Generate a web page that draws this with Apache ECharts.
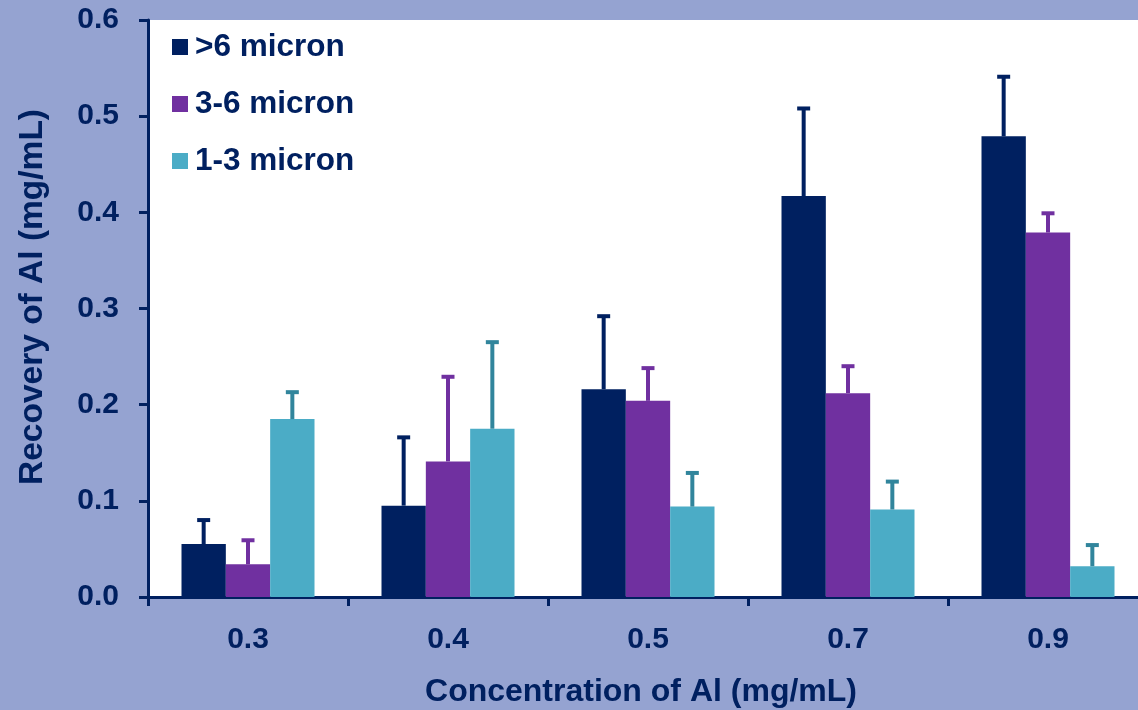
<!DOCTYPE html>
<html>
<head>
<meta charset="utf-8">
<script src="https://cdn.jsdelivr.net/npm/echarts@6/dist/echarts.min.js"></script>
<style>
  html, body { margin: 0; padding: 0; background: #95A3D1; }
  #chart { width: 1138px; height: 710px; }
</style>
</head>
<body>
<div id="chart"></div>
<script>
// Aluminium recovery by particle size fraction
const categories = ['0.3', '0.4', '0.5', '0.7', '0.9'];
const seriesNames = ['>6 micron', '3-6 micron', '1-3 micron'];

const meanOver6 = [0.055, 0.095, 0.216, 0.417, 0.479];
const meanMid = [0.034, 0.141, 0.204, 0.212, 0.379];
const meanUnder3 = [0.185, 0.175, 0.094, 0.091, 0.032];

// upper end of each error bar (mean + SD)
const upperOver6 = [0.080, 0.166, 0.292, 0.508, 0.541];
const upperMid = [0.059, 0.229, 0.238, 0.240, 0.399];
const upperUnder3 = [0.213, 0.265, 0.129, 0.120, 0.054];

const yTicks = [0, 0.1, 0.2, 0.3, 0.4, 0.5, 0.6];

const navy = '#002060';
const barColors = ['#002060', '#7030A0', '#4BACC6'];
const errColors = ['#002060', '#7030A0', '#31859C'];
const font = '"Liberation Sans", Arial, sans-serif';

const means = [meanOver6, meanMid, meanUnder3];
const uppers = [upperOver6, upperMid, upperUnder3];
const CAT_GAP = 0.335;

const chart = echarts.init(document.getElementById('chart'));

const barSeries = seriesNames.map((name, s) => ({
  name: name,
  type: 'bar',
  data: means[s],
  barGap: '0%',
  barCategoryGap: (CAT_GAP * 100) + '%',
  itemStyle: { color: barColors[s] },
  z: 2
}));

// error bars: a stem from the bar top to mean + SD, with a short cap
const errSeries = seriesNames.map((name, s) => ({
  type: 'custom',
  name: name + ' err',
  data: categories.map((c, i) => [i, means[s][i], uppers[s][i]]),
  z: 3,
  silent: true,
  renderItem: function (params, api) {
    const idx = api.value(0);
    const bandW = api.size([1, 0])[0];
    const barW = bandW * (1 - CAT_GAP) / 3;
    const lo = api.coord([idx, api.value(1)]);
    const hi = api.coord([idx, api.value(2)]);
    const x = lo[0] + (s - 1) * barW;
    const capHalf = 6.5;
    return {
      type: 'group',
      children: [
        { type: 'line', shape: { x1: x, y1: lo[1], x2: x, y2: hi[1] },
          style: { stroke: errColors[s], lineWidth: 4 } },
        { type: 'line', shape: { x1: x - capHalf, y1: hi[1], x2: x + capHalf, y2: hi[1] },
          style: { stroke: errColors[s], lineWidth: 4 } }
      ]
    };
  }
}));

chart.setOption({
  backgroundColor: '#95A3D1',
  animation: false,
  textStyle: { fontFamily: font },
  grid: {
    left: 148, top: 20, width: 1000, height: 577,
    outerBoundsMode: 'none',
    containLabel: false,
    show: true, backgroundColor: '#ffffff', borderWidth: 0
  },
  legend: {
    orient: 'vertical',
    left: 167, top: 26,
    itemWidth: 16, itemHeight: 16, itemGap: 25,
    icon: 'rect',
    data: seriesNames,
    textStyle: { color: navy, fontSize: 31.5, fontWeight: 'bold', fontFamily: font, lineHeight: 30, padding: [0, 0, 0, 2] }
  },
  xAxis: {
    type: 'category',
    data: categories,
    name: 'Concentration of Al (mg/mL)',
    nameLocation: 'middle',
    nameGap: 79,
    nameTextStyle: { color: navy, fontSize: 32, fontWeight: 'bold', fontFamily: font, padding: [0, 14, 0, 0] },
    axisLine: { lineStyle: { color: navy, width: 3 } },
    axisTick: { show: true, length: 9, lineStyle: { color: navy, width: 3 } },
    axisLabel: { color: navy, fontSize: 30, fontWeight: 'bold', fontFamily: font, margin: 28 }
  },
  yAxis: {
    type: 'value',
    min: 0, max: 0.6, interval: 0.1,
    axisLine: { show: true, lineStyle: { color: navy, width: 3 } },
    axisTick: { show: true, length: 9, lineStyle: { color: navy, width: 3 } },
    splitLine: { show: false },
    axisLabel: {
      color: navy, fontSize: 30, fontWeight: 'bold', fontFamily: font, margin: 29,
      formatter: v => yTicks.includes(Math.round(v * 10) / 10) ? v.toFixed(1) : ''
    }
  },
  graphic: [{
    type: 'text',
    left: 16, top: 109,
    rotation: Math.PI / 2,
    style: {
      text: 'Recovery of Al (mg/mL)',
      fill: navy,
      font: 'bold 33.5px "Liberation Sans", Arial, sans-serif'
    }
  }],
  series: barSeries.concat(errSeries)
});
</script>
</body>
</html>
